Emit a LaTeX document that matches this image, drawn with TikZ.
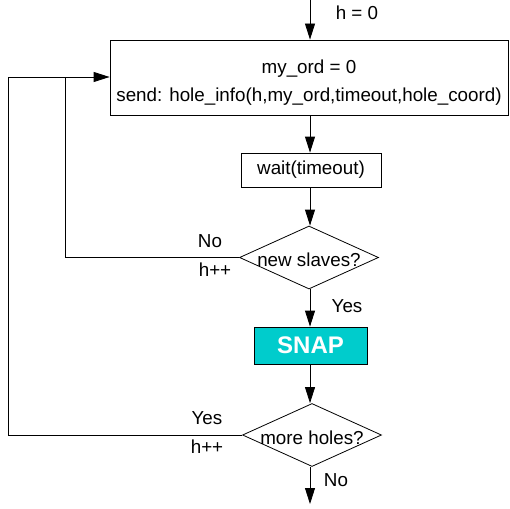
\documentclass[tikz,border=0pt]{standalone}
\usepackage{fontspec}
\setmainfont{Liberation Sans}
\usetikzlibrary{arrows.meta,shapes.geometric}
\definecolor{snapcyan}{RGB}{0,204,204}
\tikzset{
	txt/.style={font=\fontsize{18.8}{28}\selectfont, inner sep=0pt},
	flowbox/.style={txt, draw, rectangle, align=center},
	choice/.style={txt, draw, diamond, minimum width=139pt, minimum height=63pt},
	flow/.style={-{Triangle[length=16pt,width=10pt]}}
}

\begin{document}
\begin{tikzpicture}[x=1pt, y=-1pt, line width=0.8pt]
			%%%%% START %%%%%
			\useasboundingbox (0, 0) rectangle (510, 508);
			
			\node[flowbox, minimum width=398pt, minimum height=75pt] (init) at (309, 77.5) {\rule{0pt}{23pt}my\_ord = 0\\send: hole\_info(h,my\_ord,timeout,hole\_coord)};
			\node[flowbox, minimum width=140pt, minimum height=34pt] (wait) at (311, 170) {wait(timeout)};
			\node[choice] (slaves) at (309, 257.5) {\makebox[0pt]{\rule{0pt}{19pt}new slaves?}};
			\node[flowbox, fill=snapcyan, minimum width=113pt, minimum height=37pt, font=\fontsize{24}{28}\selectfont\bfseries, text=white] (snap) at (310.5, 345.5) {SNAP};
			\node[choice] (holes) at (312, 435) {\makebox[0pt]{\rule{0pt}{19pt}more holes?}};
			
			\coordinate (start) at (310, 0);
			\coordinate (stop) at (310, 504);
			\coordinate (inner) at (65, 77);
			\coordinate (outer) at (8, 77);
			
			\draw[flow] (start) -- (init.north -| start);
			\draw[flow] (init.south -| start) -- (wait.north -| start);
			\draw[flow] (wait.south -| start) -- (slaves.north -| start);
			\draw[flow] (slaves.south -| start) -- (snap.north -| start);
			\draw[flow] (snap.south -| start) -- (holes.north -| start);
			\draw[flow] (holes.south -| start) -- (stop);
			
			\draw[flow] (slaves.west) -| (inner) -- (init.west |- inner);
			\draw (holes.west) -| (outer) -- (inner);
			
			\node[txt] (hzero) at (357, 13) {h = 0};
			\node[txt] (no1) at (210, 241) {No};
			\node[txt] (inc1) at (215, 270) {h++};
			\node[txt] (yes1) at (347, 306) {Yes};
			\node[txt] (yes2) at (207, 418) {Yes};
			\node[txt] (inc2) at (207, 447) {h++};
			\node[txt] (no2) at (336, 480) {No};
			%%%%% END %%%%%
\end{tikzpicture}
\end{document}
